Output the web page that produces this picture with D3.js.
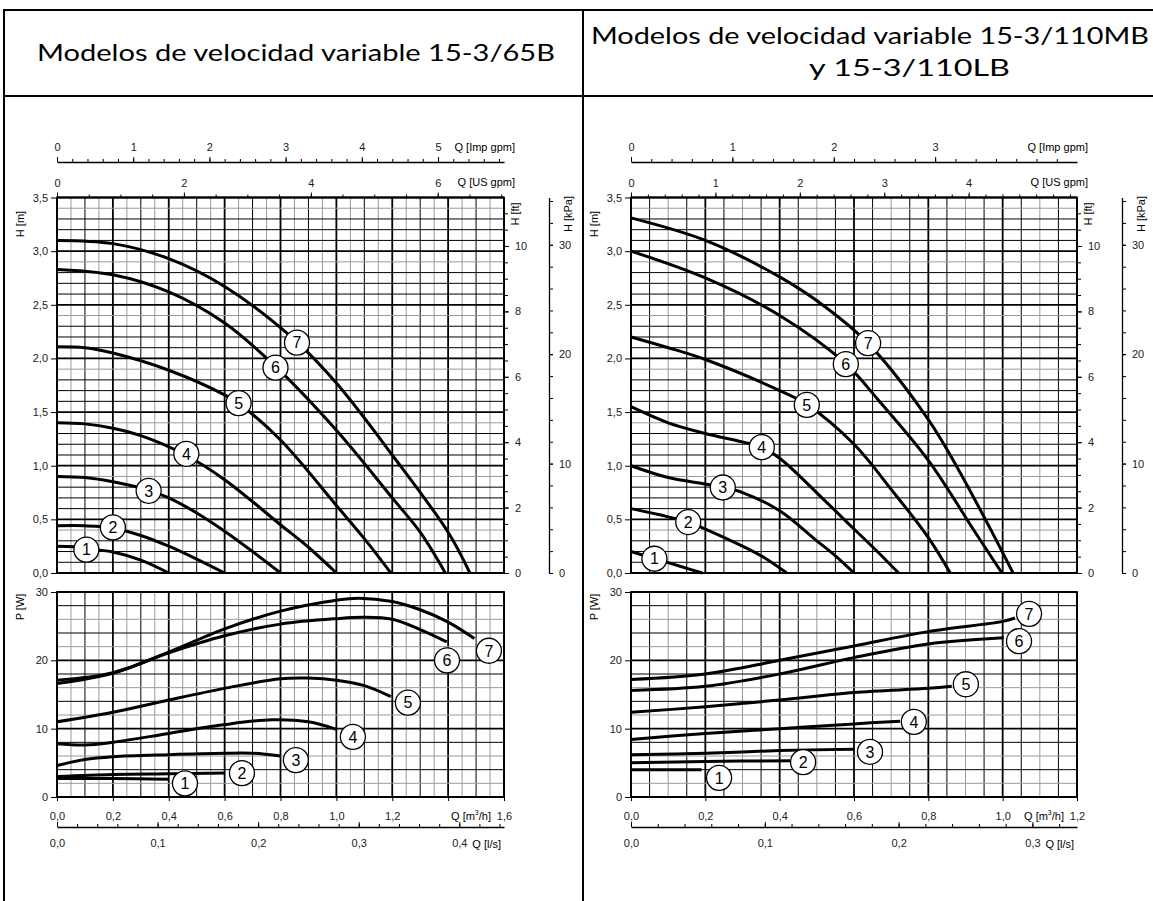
<!DOCTYPE html>
<html>
<head>
<meta charset="utf-8">
<script src="https://cdn.jsdelivr.net/npm/d3@7"></script>
<style>
  body { margin: 0; background: #fff; }
  svg text { font-family: "Liberation Sans", Arial, sans-serif; }
</style>
</head>
<body>
<svg id="chart" width="1153" height="901"></svg>
<script>
// ---- data ----
var speeds = ["1", "2", "3", "4", "5", "6", "7"];

var titleA = "Modelos de velocidad variable 15-3/65B";
var titleB = ["Modelos de velocidad variable 15-3/110MB", "y 15-3/110LB"];

// tick labels
var hTicks = [0, 0.5, 1, 1.5, 2, 2.5, 3, 3.5];
var pTicks = [0, 10, 20, 30];
var ftTicks = [0, 2, 4, 6, 8, 10];
var kpaTicks = [0, 10, 20, 30];
var impTicksA = [0, 1, 2, 3, 4, 5];
var impTicksB = [0, 1, 2, 3];
var usTicksA = [0, 2, 4, 6];
var usTicksB = [0, 1, 2, 3, 4];
var lsTicksA = [0, 0.1, 0.2, 0.3, 0.4];
var lsTicksB = [0, 0.1, 0.2, 0.3];

// 15-3/65B : head H [m] vs Q [m3/h], speeds 1..7
var headA = [
  [[0, 0.25], [0.06, 0.245], [0.12, 0.225], [0.2, 0.195], [0.3, 0.12], [0.4, 0]],
  [[0, 0.44], [0.1, 0.44], [0.2, 0.42], [0.3, 0.35], [0.4, 0.25], [0.5, 0.13], [0.6, 0]],
  [[0, 0.90], [0.1, 0.89], [0.2, 0.85], [0.33, 0.77], [0.4, 0.70], [0.5, 0.56], [0.6, 0.39], [0.7, 0.20], [0.8, 0]],
  [[0, 1.40], [0.1, 1.39], [0.2, 1.35], [0.3, 1.28], [0.46, 1.10], [0.6, 0.87], [0.8, 0.45], [0.9, 0.24], [1.0, 0]],
  [[0, 2.11], [0.1, 2.10], [0.2, 2.05], [0.4, 1.89], [0.6, 1.66], [0.65, 1.58], [0.8, 1.24], [1.0, 0.63], [1.1, 0.32], [1.195, 0]],
  [[0, 2.83], [0.2, 2.78], [0.4, 2.62], [0.6, 2.33], [0.78, 1.93], [1.0, 1.33], [1.2, 0.70], [1.3, 0.38], [1.39, 0]],
  [[0, 3.10], [0.2, 3.07], [0.4, 2.93], [0.6, 2.67], [0.86, 2.15], [1.0, 1.77], [1.2, 1.10], [1.4, 0.38], [1.478, 0]]
];
// 15-3/65B : power P [W] vs Q [m3/h]
var powerA = [
  [[0, 2.7], [0.2, 2.7], [0.4, 2.6]],
  [[0, 3.0], [0.2, 3.3], [0.4, 3.4], [0.6, 3.5]],
  [[0, 4.6], [0.1, 5.5], [0.2, 5.9], [0.4, 6.2], [0.6, 6.4], [0.7, 6.4], [0.8, 6.0]],
  [[0, 7.8], [0.1, 7.6], [0.2, 8.0], [0.4, 9.3], [0.6, 10.6], [0.77, 11.3], [0.9, 11.0], [1.0, 9.9]],
  [[0, 11.0], [0.2, 12.4], [0.4, 14.2], [0.6, 15.9], [0.8, 17.3], [0.9, 17.4], [1.0, 17.1], [1.1, 16.3], [1.195, 14.7]],
  [[0, 16.6], [0.2, 18.1], [0.4, 21.1], [0.6, 23.6], [0.8, 25.3], [1.0, 26.1], [1.1, 26.3], [1.2, 26.0], [1.3, 24.5], [1.395, 22.7]],
  [[0, 17.1], [0.2, 18.2], [0.4, 21.2], [0.6, 24.6], [0.8, 27.2], [1.0, 28.8], [1.08, 29.1], [1.2, 28.6], [1.3, 27.4], [1.4, 25.6], [1.494, 23.2]]
];
// label bubble positions [Q, value]
var headLabelsA = [[0.105, 0.217], [0.200, 0.425], [0.328, 0.766], [0.463, 1.111], [0.650, 1.583], [0.782, 1.914], [0.859, 2.147]];
var powerLabelsA = [[0.458, 2.0], [0.662, 3.5], [0.855, 5.4], [1.059, 8.8], [1.256, 13.8], [1.396, 20.0], [1.546, 21.4]];

// 15-3/110MB and 15-3/110LB
var headB = [
  [[0, 0.20], [0.063, 0.135], [0.13, 0.065], [0.192, 0]],
  [[0, 0.60], [0.08, 0.54], [0.154, 0.475], [0.2, 0.41], [0.3, 0.25], [0.36, 0.14], [0.419, 0]],
  [[0, 1.00], [0.1, 0.89], [0.2, 0.83], [0.247, 0.80], [0.3, 0.75], [0.4, 0.58], [0.5, 0.30], [0.55, 0.16], [0.6, 0]],
  [[0, 1.55], [0.1, 1.40], [0.2, 1.30], [0.352, 1.17], [0.4, 1.07], [0.52, 0.68], [0.6, 0.41], [0.66, 0.21], [0.72, 0]],
  [[0, 2.20], [0.1, 2.10], [0.2, 1.99], [0.4, 1.70], [0.473, 1.57], [0.6, 1.20], [0.7, 0.78], [0.8, 0.33], [0.859, 0]],
  [[0, 3.00], [0.2, 2.75], [0.4, 2.40], [0.578, 1.95], [0.666, 1.61], [0.8, 1.05], [0.926, 0.38], [0.998, 0]],
  [[0, 3.31], [0.2, 3.10], [0.4, 2.76], [0.523, 2.48], [0.638, 2.14], [0.8, 1.43], [0.88, 0.97], [0.97, 0.39], [1.028, 0]]
];
var powerB = [
  [[0, 4.0], [0.19, 4.0]],
  [[0, 5.0], [0.2, 5.2], [0.428, 5.3]],
  [[0, 6.2], [0.2, 6.4], [0.4, 6.8], [0.6, 7.0]],
  [[0, 8.4], [0.2, 9.3], [0.4, 10.0], [0.6, 10.7], [0.724, 11.1]],
  [[0, 12.4], [0.2, 13.2], [0.4, 14.2], [0.6, 15.3], [0.8, 15.9], [0.863, 16.2]],
  [[0, 15.6], [0.2, 16.2], [0.4, 18.0], [0.6, 20.4], [0.8, 22.4], [1.003, 23.3]],
  [[0, 17.2], [0.2, 18.0], [0.4, 20.0], [0.6, 22.1], [0.8, 24.2], [1.0, 25.7], [1.033, 26.2]]
];
var headLabelsB = [[0.063, 0.133], [0.154, 0.475], [0.247, 0.797], [0.352, 1.173], [0.473, 1.567], [0.578, 1.946], [0.638, 2.142]];
var powerLabelsB = [[0.237, 2.8], [0.463, 5.1], [0.643, 6.6], [0.761, 11.0], [0.901, 16.5], [1.044, 22.8], [1.071, 26.8]];

// unit conversions from m3/h and m
var M3H_PER_IMP = 0.272765, M3H_PER_US = 0.227125, M3H_PER_LS = 3.6;
var FT_PER_M = 3.28084, KPA_PER_M = 9.80665;

var comma = d3.formatLocale({ decimal: ",", thousands: ".", grouping: [3], currency: ["", "€"] }).format(".1f");

document.addEventListener('DOMContentLoaded', function () {
    var svg = d3.select("#chart");

    // table frame
    var frame = svg.append("g").attr("stroke", "#000").attr("stroke-width", 2);
    frame.append("line").attr("x1", 3).attr("x2", 1153).attr("y1", 10).attr("y2", 10);
    frame.append("line").attr("x1", 3).attr("x2", 1153).attr("y1", 96).attr("y2", 96);
    frame.append("line").attr("x1", 4).attr("x2", 4).attr("y1", 9).attr("y2", 901);
    frame.append("line").attr("x1", 583).attr("x2", 583).attr("y1", 9).attr("y2", 901);

    // titles
    svg.append("text")
        .attr("x", 37).attr("y", 61)
        .attr("textLength", 518).attr("lengthAdjust", "spacingAndGlyphs")
        .style("font-family", "Lato, 'Noto Sans', sans-serif").style("font-size", "23px")
        .text(titleA);
    svg.append("text")
        .attr("x", 591).attr("y", 44)
        .attr("textLength", 558).attr("lengthAdjust", "spacingAndGlyphs")
        .style("font-family", "Lato, 'Noto Sans', sans-serif").style("font-size", "23px")
        .text(titleB[0]);
    svg.append("text")
        .attr("x", 809).attr("y", 76)
        .attr("textLength", 201).attr("lengthAdjust", "spacingAndGlyphs")
        .style("font-family", "Lato, 'Noto Sans', sans-serif").style("font-size", "23px")
        .text(titleB[1]);

    drawPanel(svg, {
        x0: 57, x1: 504, qMax: 1.6, grayOdd: true,
        head: headA, power: powerA, headLabels: headLabelsA, powerLabels: powerLabelsA,
        qLabelSkip: 1.4,
        impTicks: impTicksA, impMinor: 0.2,
        usTicks: usTicksA, usMinor: 0.5,
        lsTicks: lsTicksA
    });
    drawPanel(svg, {
        x0: 631, x1: 1077, qMax: 1.2, grayOdd: false,
        head: headB, power: powerB, headLabels: headLabelsB, powerLabels: powerLabelsB,
        qLabelSkip: null,
        impTicks: impTicksB, impMinor: 0.2,
        usTicks: usTicksB, usMinor: 0.2,
        lsTicks: lsTicksB
    });
});

function styleAxis(g, keepDomain) {
    g.attr("font-family", "'Liberation Sans', Arial, sans-serif").attr("font-size", 11);
    if (!keepDomain) g.select(".domain").remove();
    g.select(".domain").attr("stroke-width", 1.3);
    g.selectAll(".tick line").attr("stroke", "#000");
    g.selectAll(".tick text").attr("fill", "#1a1a1a");
}

function drawPanel(svg, p) {
    var yTop = 197.5, yBot = 573, pTop = 592, pBot = 797;

    var x = d3.scaleLinear().domain([0, p.qMax]).range([p.x0, p.x1]);
    var yH = d3.scaleLinear().domain([0, 3.5]).range([yBot, yTop]);
    var yP = d3.scaleLinear().domain([0, 30]).range([pBot, pTop]);

    var xImp = d3.scaleLinear().domain([0, p.qMax / M3H_PER_IMP]).range([p.x0, p.x1]);
    var xUs = d3.scaleLinear().domain([0, p.qMax / M3H_PER_US]).range([p.x0, p.x1]);
    var xLs = d3.scaleLinear().domain([0, p.qMax / M3H_PER_LS]).range([p.x0, p.x1]);
    var yFt = d3.scaleLinear().domain([0, 3.5 * FT_PER_M]).range([yBot, yTop]);
    var yKpa = d3.scaleLinear().domain([0, 3.5 * KPA_PER_M]).range([yBot, yTop]);

    var g = svg.append("g");

    // ---- grid ----
    var qGrid = d3.range(0, Math.round(p.qMax / 0.05) + 1).map(function (i) { return i * 0.05; });
    function vColor(i) {
        if (i % 4 === 0) return "#000";
        if (p.grayOdd) return i % 2 === 1 ? "#9a9a9a" : "#000";
        return i % 4 === 2 ? "#9a9a9a" : "#000";
    }
    function vWidth(i) { return i % 4 === 0 ? 1.8 : 1; }

    [[yH, 0, 3.5], [yP, 0, 30]].forEach(function (s) {
        var ys = s[0];
        g.append("g").selectAll("line")
            .data(qGrid)
            .enter().append("line")
            .attr("x1", function (d) { return x(d); })
            .attr("x2", function (d) { return x(d); })
            .attr("y1", ys(s[1])).attr("y2", ys(s[2]))
            .attr("stroke", function (d, i) { return vColor(i); })
            .attr("stroke-width", function (d, i) { return vWidth(i); });
    });

    var hGrid = d3.range(0, 36).map(function (i) { return i / 10; });
    g.append("g").selectAll("line")
        .data(hGrid)
        .enter().append("line")
        .attr("x1", p.x0).attr("x2", p.x1)
        .attr("y1", function (d) { return yH(d); })
        .attr("y2", function (d) { return yH(d); })
        .attr("stroke", function (d, i) { return i % 5 === 4 ? "#9a9a9a" : "#000"; })
        .attr("stroke-width", function (d, i) { return i % 5 === 0 ? 1.8 : 1; });

    var pGrid = d3.range(0, 16).map(function (i) { return i * 2; });
    g.append("g").selectAll("line")
        .data(pGrid)
        .enter().append("line")
        .attr("x1", p.x0).attr("x2", p.x1)
        .attr("y1", function (d) { return yP(d); })
        .attr("y2", function (d) { return yP(d); })
        .attr("stroke", function (d, i) { return (i % 5 === 1 || i % 5 === 3) ? "#9a9a9a" : "#000"; })
        .attr("stroke-width", function (d, i) { return i % 5 === 0 ? 1.8 : 1; });

    // plot frames
    g.append("rect").attr("x", p.x0).attr("y", yTop).attr("width", p.x1 - p.x0).attr("height", yBot - yTop)
        .attr("fill", "none").attr("stroke", "#000").attr("stroke-width", 1.8);
    g.append("rect").attr("x", p.x0).attr("y", pTop).attr("width", p.x1 - p.x0).attr("height", pBot - pTop)
        .attr("fill", "none").attr("stroke", "#000").attr("stroke-width", 1.8);

    // ---- left axes ----
    g.append("g").attr("transform", "translate(" + p.x0 + ",0)")
        .call(d3.axisLeft(yH).tickValues(hTicks).tickFormat(comma).tickSize(6).tickPadding(3).tickSizeOuter(0))
        .call(styleAxis);
    g.append("g").attr("transform", "translate(" + p.x0 + ",0)")
        .call(d3.axisLeft(yP).tickValues(pTicks).tickFormat(d3.format("d")).tickSize(6).tickPadding(3).tickSizeOuter(0))
        .call(styleAxis);

    g.append("text").attr("transform", "translate(" + (p.x0 - 33) + "," + 224 + ") rotate(-90)")
        .attr("text-anchor", "middle").attr("font-size", 11).text("H [m]");
    g.append("text").attr("transform", "translate(" + (p.x0 - 33) + "," + 607 + ") rotate(-90)")
        .attr("text-anchor", "middle").attr("font-size", 11).text("P [W]");

    // ---- right axes: ft and kPa ----
    g.append("g").attr("transform", "translate(" + p.x1 + ",0)")
        .call(d3.axisRight(yFt).tickValues(d3.range(0, 11.5, 0.5)).tickFormat("").tickSize(4).tickSizeOuter(0))
        .call(styleAxis);
    g.append("g").attr("transform", "translate(" + p.x1 + ",0)")
        .call(d3.axisRight(yFt).tickValues(ftTicks).tickFormat(d3.format("d")).tickSize(5).tickPadding(6).tickSizeOuter(0))
        .call(styleAxis);
    g.append("text").attr("transform", "translate(" + (p.x1 + 15) + "," + 214 + ") rotate(-90)")
        .attr("text-anchor", "middle").attr("font-size", 11).text("H [ft]");

    g.append("g").attr("transform", "translate(" + (p.x1 + 45) + ",0)")
        .call(d3.axisRight(yKpa).tickValues(d3.range(0, 35, 2)).tickFormat("").tickSize(4).tickSizeOuter(0))
        .call(function (a) { styleAxis(a, true); });
    g.append("g").attr("transform", "translate(" + (p.x1 + 45) + ",0)")
        .call(d3.axisRight(yKpa).tickValues(kpaTicks).tickFormat(d3.format("d")).tickSize(4).tickPadding(6).tickSizeOuter(0))
        .call(styleAxis);
    g.append("text").attr("transform", "translate(" + (p.x1 + 68) + "," + 214 + ") rotate(-90)")
        .attr("text-anchor", "middle").attr("font-size", 11).text("H [kPa]");

    // ---- top axes: Imp gpm and US gpm ----
    var impMax = p.qMax / M3H_PER_IMP;
    g.append("g").attr("transform", "translate(0,162)")
        .call(d3.axisTop(xImp).tickValues(d3.range(0, impMax + 1e-6, p.impMinor)).tickFormat("").tickSize(3).tickSizeOuter(0))
        .call(function (a) { styleAxis(a, true); });
    g.append("g").attr("transform", "translate(0,162)")
        .call(d3.axisTop(xImp).tickValues(p.impTicks).tickFormat(d3.format("d")).tickSize(5).tickPadding(6).tickSizeOuter(0))
        .call(styleAxis);
    g.append("text").attr("x", p.x1 + 11).attr("y", 151).attr("text-anchor", "end")
        .attr("font-size", 11).text("Q [Imp gpm]");

    var usMax = p.qMax / M3H_PER_US;
    g.append("g").attr("transform", "translate(0," + yTop + ")")
        .call(d3.axisTop(xUs).tickValues(d3.range(0, usMax + 1e-6, p.usMinor)).tickFormat("").tickSize(3).tickSizeOuter(0))
        .call(styleAxis);
    g.append("g").attr("transform", "translate(0," + yTop + ")")
        .call(d3.axisTop(xUs).tickValues(p.usTicks).tickFormat(d3.format("d")).tickSize(5).tickPadding(6).tickSizeOuter(0))
        .call(styleAxis);
    g.append("text").attr("x", p.x1 + 11).attr("y", 186).attr("text-anchor", "end")
        .attr("font-size", 11).text("Q [US gpm]");

    // ---- bottom axes: m3/h and l/s ----
    g.append("g").attr("transform", "translate(0," + pBot + ")")
        .call(d3.axisBottom(x).tickValues(d3.range(0, p.qMax + 1e-6, 0.2)).tickSize(4).tickPadding(11).tickSizeOuter(0)
            .tickFormat(function (d) { return (p.qLabelSkip !== null && Math.abs(d - p.qLabelSkip) < 1e-6) ? "" : comma(d); }))
        .call(styleAxis);
    var qLab = g.append("text").attr("x", p.x1 - 13).attr("y", 820).attr("text-anchor", "end").attr("font-size", 11);
    qLab.append("tspan").text("Q [m");
    qLab.append("tspan").attr("font-size", 7).attr("dy", -5).text("3");
    qLab.append("tspan").attr("dy", 5).text("/h]");

    var lsMax = p.qMax / M3H_PER_LS;
    g.append("g").attr("transform", "translate(0,827)")
        .call(d3.axisBottom(xLs).tickValues(d3.range(0, lsMax + 1e-6, 0.02)).tickFormat("").tickSize(-3).tickSizeOuter(0))
        .call(function (a) { styleAxis(a, true); });
    g.append("g").attr("transform", "translate(0,827)")
        .call(d3.axisBottom(xLs).tickValues(p.lsTicks).tickFormat(comma).tickSize(-5).tickPadding(12).tickSizeOuter(0))
        .call(styleAxis);
    g.append("text").attr("x", xLs(p.lsTicks[p.lsTicks.length - 1]) + 13).attr("y", 848)
        .attr("font-size", 11).text("Q [l/s]");

    // ---- curves ----
    var lineH = d3.line().x(function (d) { return x(d[0]); }).y(function (d) { return yH(d[1]); }).curve(d3.curveCatmullRom.alpha(0.5));
    var lineP = d3.line().x(function (d) { return x(d[0]); }).y(function (d) { return yP(d[1]); }).curve(d3.curveCatmullRom.alpha(0.5));

    g.append("g").selectAll("path")
        .data(p.head)
        .enter().append("path")
        .attr("d", lineH)
        .attr("fill", "none").attr("stroke", "#000").attr("stroke-width", 3);
    g.append("g").selectAll("path")
        .data(p.power)
        .enter().append("path")
        .attr("d", lineP)
        .attr("fill", "none").attr("stroke", "#000").attr("stroke-width", 3);

    // ---- speed bubbles ----
    function bubbles(list, ys) {
        var b = g.append("g").selectAll(".bubble")
            .data(list)
            .enter().append("g")
            .attr("class", "bubble")
            .attr("transform", function (d) { return "translate(" + x(d[0]) + "," + ys(d[1]) + ")"; });
        b.append("circle").attr("r", 12.5).attr("fill", "#fff").attr("stroke", "#000").attr("stroke-width", 1.3);
        b.append("text").attr("text-anchor", "middle").attr("dy", "0.36em").attr("font-size", 16)
            .text(function (d, i) { return speeds[i]; });
    }
    bubbles(p.headLabels, yH);
    bubbles(p.powerLabels, yP);
}
</script>
</body>
</html>
